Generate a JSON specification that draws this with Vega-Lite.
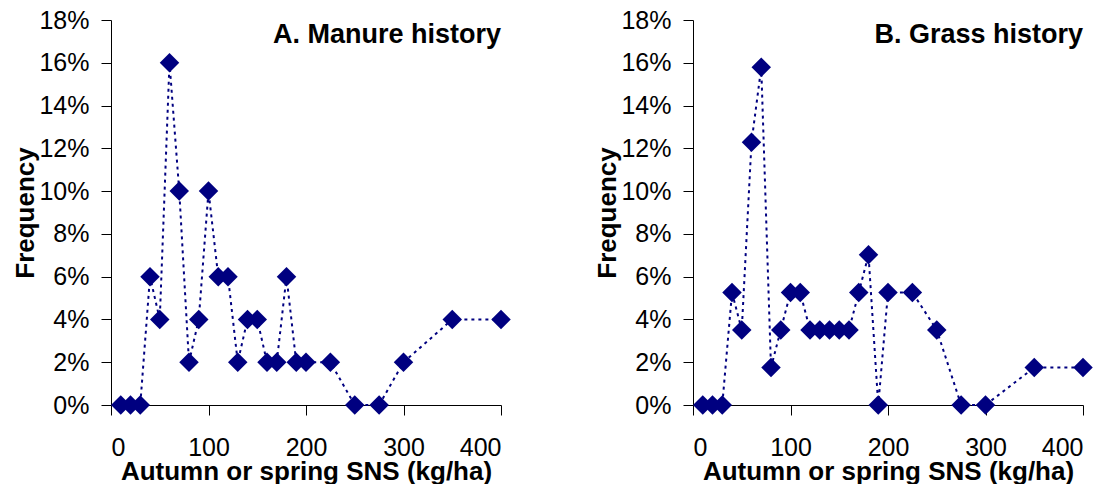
{
  "$schema": "https://vega.github.io/schema/vega-lite/v6.json",
  "padding": {"left": 12, "top": 8, "right": 0, "bottom": 0},
  "background": "white",
  "datasets": {
    "manure": [
      {"sns": 10, "freq": 0}, {"sns": 20, "freq": 0}, {"sns": 30, "freq": 0},
      {"sns": 40, "freq": 0.06}, {"sns": 50, "freq": 0.04}, {"sns": 60, "freq": 0.16},
      {"sns": 70, "freq": 0.10}, {"sns": 80, "freq": 0.02}, {"sns": 90, "freq": 0.04},
      {"sns": 100, "freq": 0.10}, {"sns": 110, "freq": 0.06}, {"sns": 120, "freq": 0.06},
      {"sns": 130, "freq": 0.02}, {"sns": 140, "freq": 0.04}, {"sns": 150, "freq": 0.04},
      {"sns": 160, "freq": 0.02}, {"sns": 170, "freq": 0.02}, {"sns": 180, "freq": 0.06},
      {"sns": 190, "freq": 0.02}, {"sns": 200, "freq": 0.02}, {"sns": 225, "freq": 0.02},
      {"sns": 250, "freq": 0}, {"sns": 275, "freq": 0}, {"sns": 300, "freq": 0.02},
      {"sns": 350, "freq": 0.04}, {"sns": 400, "freq": 0.04}
    ],
    "grass": [
      {"sns": 10, "freq": 0}, {"sns": 20, "freq": 0}, {"sns": 30, "freq": 0},
      {"sns": 40, "freq": 0.0526}, {"sns": 50, "freq": 0.0351}, {"sns": 60, "freq": 0.1228},
      {"sns": 70, "freq": 0.1579}, {"sns": 80, "freq": 0.0175}, {"sns": 90, "freq": 0.0351},
      {"sns": 100, "freq": 0.0526}, {"sns": 110, "freq": 0.0526}, {"sns": 120, "freq": 0.0351},
      {"sns": 130, "freq": 0.0351}, {"sns": 140, "freq": 0.0351}, {"sns": 150, "freq": 0.0351},
      {"sns": 160, "freq": 0.0351}, {"sns": 170, "freq": 0.0526}, {"sns": 180, "freq": 0.0702},
      {"sns": 190, "freq": 0}, {"sns": 200, "freq": 0.0526}, {"sns": 225, "freq": 0.0526},
      {"sns": 250, "freq": 0.0351}, {"sns": 275, "freq": 0}, {"sns": 300, "freq": 0},
      {"sns": 350, "freq": 0.0175}, {"sns": 400, "freq": 0.0175}
    ]
  },
  "config": {
    "font": "Liberation Sans",
    "view": {"stroke": null},
    "axis": {
      "grid": false,
      "domainColor": "#000000",
      "tickColor": "#000000",
      "labelColor": "#000000",
      "titleColor": "#000000",
      "labelFont": "Liberation Sans",
      "titleFont": "Liberation Sans",
      "labelFontSize": 25,
      "titleFontSize": 26,
      "titleFontWeight": "bold",
      "tickSize": 10,
      "domainWidth": 1,
      "tickWidth": 1
    },
    "axisX": {"labelPadding": 20, "titleY": 74, "titleBaseline": "alphabetic"},
    "axisY": {"labelPadding": 12, "titleX": -78, "titleBaseline": "alphabetic"},
    "title": {"fontSize": 27, "fontWeight": "bold", "color": "#000000", "anchor": "end", "frame": "group", "offset": -41, "font": "Liberation Sans"}
  },
  "bounds": "flush",
  "spacing": 192,
  "hconcat": [
    {
      "width": 390,
      "height": 385,
      "title": {"text": "A. Manure history"},
      "data": {"name": "manure"},
      "encoding": {
        "x": {"field": "sns", "type": "quantitative", "scale": {"domain": [0, 400], "nice": false}, "axis": {"values": [0, 100, 200, 300, 400], "title": "Autumn or spring SNS (kg/ha)"}},
        "y": {"field": "freq", "type": "quantitative", "scale": {"domain": [0, 0.18], "nice": false}, "axis": {"values": [0, 0.02, 0.04, 0.06, 0.08, 0.1, 0.12, 0.14, 0.16, 0.18], "format": ".0%", "title": "Frequency"}}
      },
      "layer": [
        {"mark": {"type": "line", "color": "#000080", "strokeWidth": 2, "strokeDash": [3, 4]}},
        {"mark": {"type": "point", "shape": "diamond", "filled": true, "color": "#000080", "opacity": 1, "size": 380}}
      ]
    },
    {
      "width": 390,
      "height": 385,
      "title": {"text": "B. Grass history"},
      "data": {"name": "grass"},
      "encoding": {
        "x": {"field": "sns", "type": "quantitative", "scale": {"domain": [0, 400], "nice": false}, "axis": {"values": [0, 100, 200, 300, 400], "title": "Autumn or spring SNS (kg/ha)"}},
        "y": {"field": "freq", "type": "quantitative", "scale": {"domain": [0, 0.18], "nice": false}, "axis": {"values": [0, 0.02, 0.04, 0.06, 0.08, 0.1, 0.12, 0.14, 0.16, 0.18], "format": ".0%", "title": "Frequency"}}
      },
      "layer": [
        {"mark": {"type": "line", "color": "#000080", "strokeWidth": 2, "strokeDash": [3, 4]}},
        {"mark": {"type": "point", "shape": "diamond", "filled": true, "color": "#000080", "opacity": 1, "size": 380}}
      ]
    }
  ]
}
